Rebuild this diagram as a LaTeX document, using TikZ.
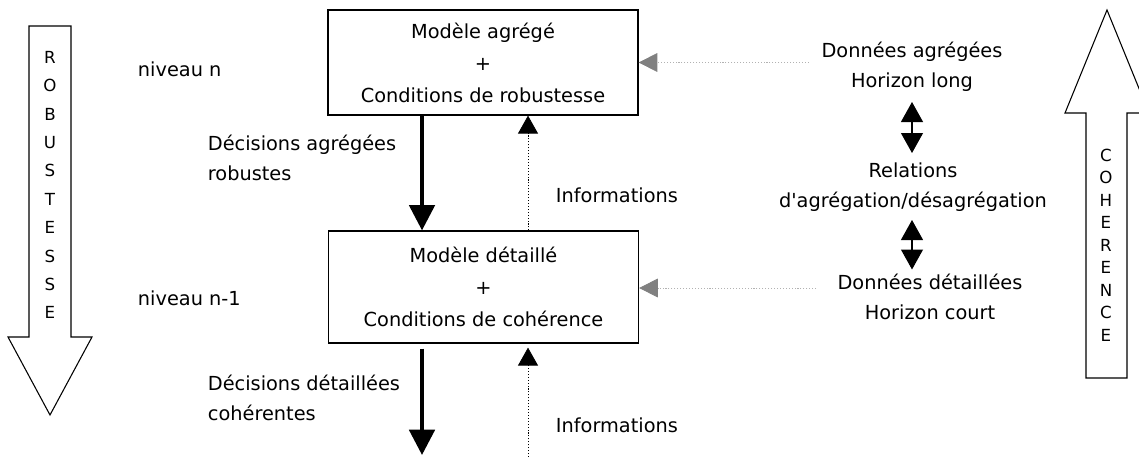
\documentclass[tikz,border=0pt]{standalone}
\usepackage{fontspec}
\setmainfont{DejaVu Sans}[Ligatures=TeXOff]
\usetikzlibrary{arrows.meta,calc}
\begin{document}
\begin{tikzpicture}[x=0.75pt,y=-0.75pt,
    txt/.style={inner sep=2pt, font=\fontsize{14.5}{22.5}\selectfont},
    model/.style={draw, line width=0.9pt, minimum width=232.5pt, align=center, font=\fontsize{14.5}{24}\selectfont},
    decision/.style={line width=3pt, -{Triangle[width=19pt,length=19pt]}},
    info/.style={line width=0.6pt, dash pattern=on 0.8pt off 1.4pt, -{Triangle[width=15pt,length=13.5pt]}},
    donnee/.style={gray!60, line width=0.6pt, dash pattern=on 0.8pt off 1.4pt, -{Triangle[width=14pt,length=14pt,gray]}},
    lien/.style={line width=0.8pt, {Triangle[width=16.5pt,length=15pt]}-{Triangle[width=16.5pt,length=15pt]}},
    fleche/.style={draw, line width=0.8pt},
    lettres/.style={align=center, inner sep=0pt, font=\fontsize{12.5}{#1}\selectfont}]
    \useasboundingbox (0,0) rectangle (1139,457);
    \draw[fleche] (29,26) -- (71,26) -- (71,337) -- (92,337) -- (50,415) -- (8,337) -- (29,337) -- cycle;
    \draw[fleche] (1086,378) -- (1127,378) -- (1127,113) -- (1149,113) -- (1107,10) -- (1065,113) -- (1086,113) -- cycle;
    \node (robustesse) [lettres=21.3pt] at (50,185) {R\\O\\B\\U\\S\\T\\E\\S\\S\\E};
    \node (coherence) [lettres=16.9pt] at (1106,245) {C\\O\\H\\E\\R\\E\\N\\C\\E};
    \node (agrege) [model, minimum height=78.75pt] at (483,62.5) {Modèle agrégé\\+\\Conditions de robustesse};
    \node (detaille) [model, minimum height=84pt] at (483.5,287) {Modèle détaillé\\+\\Conditions de cohérence};
    \node (niveaun) [txt, anchor=west] at (135,69) {niveau n};
    \node (niveaum) [txt, anchor=west] at (135,298) {niveau n-1};
    \node (decagr) [txt, anchor=west, align=left] at (205,158) {Décisions agrégées\\robustes};
    \node (decdet) [txt, anchor=west, align=left] at (205,398) {Décisions détaillées\\cohérentes};
    \node (info1) [txt, anchor=west] at (553,195) {Informations};
    \node (info2) [txt, anchor=west] at (553,425) {Informations};
    \node (dagr) [txt, align=center] at (912,67) {Données agrégées\\Horizon long};
    \node (relat) [txt, align=center] at (913,187) {Relations\\d'agrégation/désagrégation};
    \node (ddet) [txt, align=center] at (930,297) {Données détaillées\\Horizon court};
    \coordinate (sortie) at (422,455);
    \coordinate (entree) at (528,457);
    \draw[decision] ($(agrege.south)+(-61,0)$) -- ($(detaille.north)+(-61.5,0)$);
    \draw[decision] ($(detaille.south)+(-61.5,5)$) -- (sortie);
    \draw[info] ($(detaille.north)+(44.5,0)$) -- ($(agrege.south)+(45,0)$);
    \draw[info] (entree) -- ($(detaille.south)+(44.5,4)$);
    \draw[donnee] ($(agrege.east)+(170,0)$) -- (agrege.east);
    \draw[donnee] ($(detaille.east)+(177,1)$) -- ($(detaille.east)+(0,1)$);
    \draw[lien] ($(dagr.center)+(0,35)$) -- ($(dagr.center |- relat.center)+(0,-34)$);
    \draw[lien] ($(dagr.center |- relat.center)+(0,33)$) -- ($(dagr.center |- ddet.center)+(0,-27.5)$);
\end{tikzpicture}
\end{document}
